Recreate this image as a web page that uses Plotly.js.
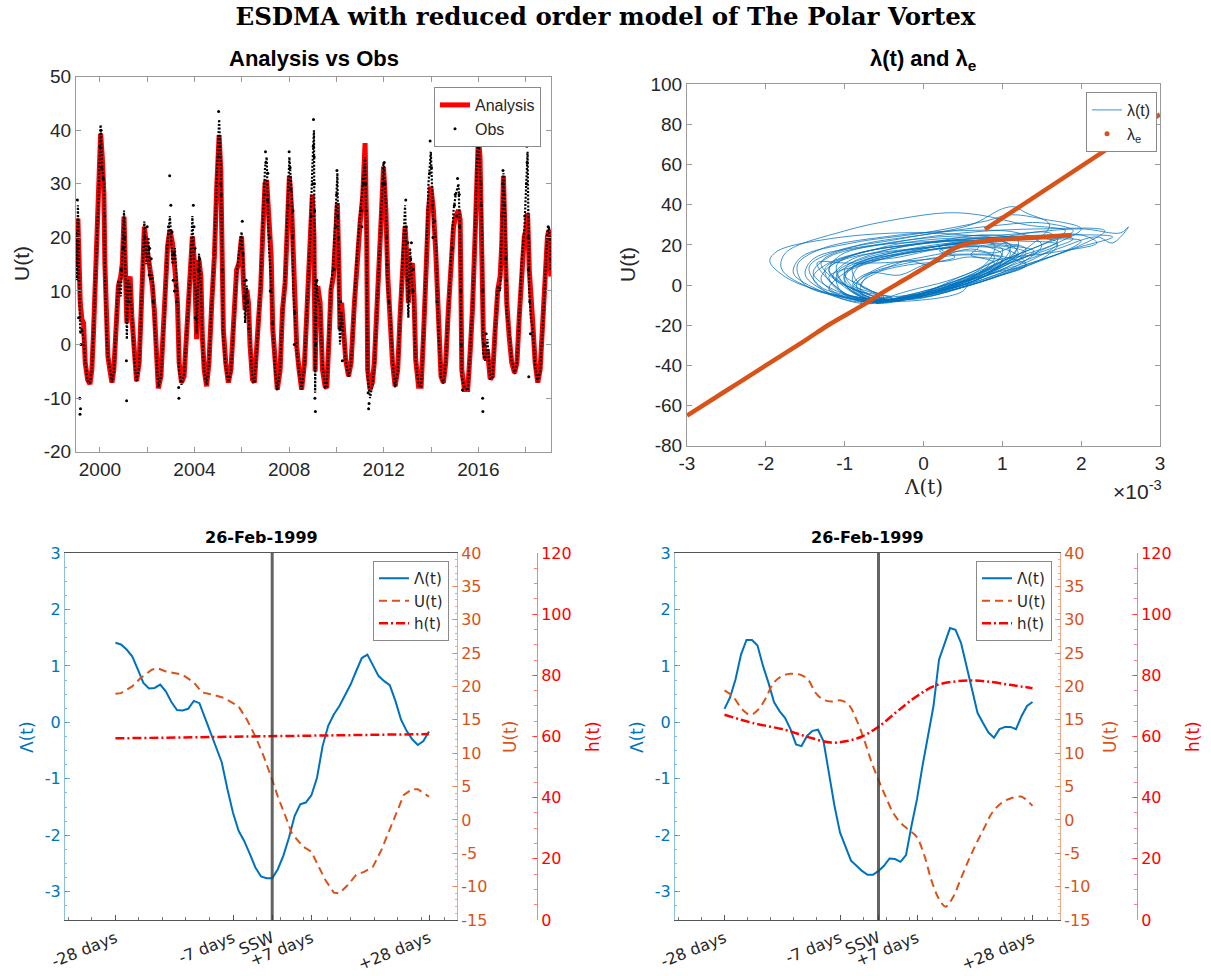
<!DOCTYPE html>
<html><head><meta charset="utf-8">
<script src="https://cdn.plot.ly/plotly-3.0.1.min.js"></script>
<style>html,body{margin:0;padding:0;background:#fff}#chart{width:1211px;height:976px}</style>
</head><body><div id="chart"></div>
<script>
// ---------- Panel 1: Analysis vs Obs (time in decimal years, U in m/s) ----------
const years = [1999.00,1999.03,1999.07,1999.12,1999.17,1999.24,1999.31,1999.38,1999.48,1999.58,1999.66,1999.73,1999.83,1999.90,1999.97,
2000.03,2000.10,2000.17,2000.21,2000.27,2000.34,2000.42,2000.51,2000.59,2000.69,2000.78,2000.88,2000.95,
2001.02,2001.10,2001.14,2001.19,2001.28,2001.35,2001.45,2001.55,2001.66,2001.76,2001.88,2001.96,
2002.05,2002.13,2002.22,2002.30,2002.38,2002.47,2002.58,2002.72,2002.86,2002.96,
2003.07,2003.17,2003.28,2003.35,2003.45,2003.56,2003.70,2003.84,2003.91,
2004.00,2004.05,2004.09,2004.19,2004.27,2004.33,2004.41,2004.51,2004.61,2004.73,2004.84,2004.94,
2005.04,2005.11,2005.15,2005.22,2005.32,2005.43,2005.54,2005.68,2005.78,2005.88,2005.99,
2006.07,2006.14,2006.21,2006.28,2006.35,2006.45,2006.53,2006.67,2006.80,2006.88,2006.98,
2007.05,2007.15,2007.24,2007.31,2007.41,2007.50,2007.62,2007.72,2007.83,2007.91,
2008.01,2008.11,2008.18,2008.25,2008.32,2008.42,2008.53,2008.65,2008.79,2008.89,2008.98,
2009.05,2009.10,2009.15,2009.21,2009.31,2009.41,2009.52,2009.59,2009.69,2009.77,2009.87,2009.97,
2010.04,2010.11,2010.15,2010.22,2010.29,2010.39,2010.51,2010.62,2010.76,2010.89,
2011.00,2011.11,2011.21,2011.28,2011.32,2011.42,2011.52,2011.60,2011.70,2011.80,2011.89,2011.99,
2012.09,2012.17,2012.27,2012.37,2012.48,2012.59,2012.69,2012.79,2012.90,2012.97,
2013.04,2013.11,2013.21,2013.28,2013.35,2013.47,2013.58,2013.68,2013.79,2013.89,2013.99,
2014.10,2014.20,2014.31,2014.42,2014.52,2014.62,2014.73,2014.85,2014.95,
2015.04,2015.16,2015.23,2015.30,2015.41,2015.55,2015.65,2015.75,2015.86,2015.93,
2016.00,2016.07,2016.14,2016.21,2016.29,2016.38,2016.50,2016.60,2016.71,2016.82,2016.92,2016.99,
2017.06,2017.13,2017.20,2017.30,2017.41,2017.53,2017.63,2017.73,2017.84,2017.94,
2018.01,2018.08,2018.15,2018.22,2018.30,2018.40,2018.51,2018.61,2018.73,2018.82,2018.92,2018.99,2019.06];

const analysisU = [20.5,14.5,23.5,15,7.8,4.7,4.0,-3.4,-6.5,-7.4,-4.7,2.2,14,21.4,30.7,
39.4,35,28.2,15.2,4.7,-2.2,-4.7,-7.1,-4.7,3.4,10.9,12.7,15.2,
23.9,12.7,4,11.5,12.7,5.3,-2.8,-6.8,-3.4,7.8,22,18.9,
16.4,14,10.9,6.5,-2.2,-8.2,-5.9,4.7,18.3,21.4,
18.9,14,7.8,-3.4,-7.1,-5.9,4,14,20.2,
15.2,8,1.0,15.8,12.7,1.6,-4.7,-7.8,-3.4,7.8,16.4,29.5,
39.1,32.6,20.2,2.8,-3.4,-7.1,-4.7,6.5,14,15.2,20.2,
11.5,6.5,10.2,7.8,-0.3,-6.5,-7.1,1.6,10.9,20.2,30.1,
30.7,21.4,16.4,2.8,-4.7,-8.4,-4.7,6.5,11.5,20.2,
31.5,25.1,14,4,-0.3,-4.7,-8.4,-3.4,10.9,18.9,28,
20.2,-5,8,10.9,7.8,-4.7,-7.8,-8.1,1.6,10.2,12.7,20.2,
26.4,12.7,2.8,7.8,1.6,-2.8,-5.9,-3.4,7.8,17.1,
22.7,27.6,37.6,20.2,-4.7,-8.4,-7.1,-3.4,4.7,14,23.3,33.2,
25.1,12.7,4,-3.4,-7.8,-4.7,5.3,14,22,17.1,
7.8,14,15.2,9,-2.8,-7.8,-7.8,1.6,14,25.1,29.5,
25.1,17.1,2,-5.9,-7.1,-3.4,6.5,14,22,
23.9,25.1,23.3,-4.7,-8.4,-8.4,-1.6,6.5,20.2,32.6,
38.8,35,21.4,1.6,-2.8,-0.9,-6.5,-5.9,2.8,10.2,12.7,18.9,
31.5,21.4,7.8,1.6,-3.4,-5.3,-3.4,5.3,15.2,20.2,
21.4,24.5,14,7.8,4,-3.4,-7.1,-4.7,4,11.5,20.2,21.4,12.7];

const obsU = [21,12,26,10,2,3,1,-3,-6.8,-7.2,-4.5,2.5,15,20,31,
41,33,30,14,3.5,-2.5,-4.3,-7,-5,3,12,9,16,
25,10,1,12,11,6,-2.4,-7,-3.8,8,23,15,
20,12,13,5,-1.5,-8,-6,5,19,24,
15,18,9,-5,-7.5,-5.5,4.5,15,24,
12,10,2,17,11,1,-5,-7.5,-3.6,8,17,31,
42,34,24,1,-4,-7,-5,7,13,17,21,
14,4,11,6,-1,-6.8,-7.2,1.5,12,22,33,
35,18,12,3,-5,-8.6,-4.4,6,12,22,
35,28,10,5,-1,-5,-8.4,-3.6,10.5,20,33,
40,-9,12,9,7,-4,-8,-8,2,11,15,24,
32,8,0,6,2,-3,-6,-3.5,8,18,
24,29,35,18,-6,-10,-7.5,-4,5,15,24,34,
26,10,6,-3,-8,-5,5,14.5,26,14,
5,18,12,6,-3,-7.5,-8,1.5,15,30,36,
22,20,3,-6,-7.3,-3.2,7,16,25,
28,30,20,-6,-8,-8.6,-1.5,7,20,33,
40,32,24,-2,-3,1,-6.5,-6,3,11,10,20,
32,24,6,2.5,-3,-5.5,-3.5,5,16,21,
30,36,10,5,3,-4,-7,-5,4,12,21,22,14];

const obsExtraYears = [1999.05,1999.08,1999.10,1999.15,1999.16,1999.18,1999.20,2000.00,2000.05,2000.07,2000.14,2000.20,
2000.90,2000.98,2001.05,2001.12,2001.13,2001.22,2001.90,2002.00,2002.08,2002.10,2002.17,2002.25,
2002.90,2002.95,2003.00,2003.05,2003.10,2003.12,2003.15,2003.20,2003.25,2003.33,2003.34,
2003.95,2003.98,2004.02,2004.03,2004.15,2004.22,2005.00,2005.02,2005.06,2005.09,2005.13,2005.17,
2005.95,2006.02,2006.05,2006.10,2006.18,2006.25,2006.30,2006.95,2007.00,2007.02,2007.08,2007.10,2007.18,2007.20,2007.28,
2007.95,2008.00,2008.04,2008.07,2008.14,2008.16,2008.22,2008.24,
2008.94,2009.00,2009.02,2009.03,2009.06,2009.07,2009.08,2009.09,2009.11,2009.12,2009.13,2009.17,
2009.90,2009.99,2010.01,2010.02,2010.06,2010.08,2010.09,2010.13,2010.18,2010.20,2010.25,
2011.05,2011.08,2011.15,2011.18,2011.24,2011.26,2011.34,2011.36,2011.38,
2011.95,2012.02,2012.05,2012.12,2012.14,2012.22,
2012.93,2012.95,2013.00,2013.02,2013.07,2013.14,2013.17,2013.24,2013.25,
2013.94,2013.96,2014.02,2014.05,2014.08,2014.15,2014.25,
2014.90,2014.99,2015.02,2015.08,2015.12,2015.19,2015.20,2015.26,2015.28,2015.33,
2015.97,2016.02,2016.04,2016.10,2016.12,2016.17,2016.18,2016.19,2016.24,2016.33,
2017.00,2017.03,2017.04,2017.08,2017.10,2017.16,2017.18,
2017.96,2018.03,2018.05,2018.06,2018.10,2018.12,2018.13,2018.17,2018.20,
2018.95,2019.02,2019.04];
const obsExtraU = [27,18,5,-10,-13,-12,0,37,40,33,31,24,
14,18,20,-3,-10.5,8,20,22,13,18,16,8,
22,31.5,26,21,12,17,10,11,8,-8,-10,
26,22,18,5,14,16,35,43.5,37,30,28,14,
18,23,17,9,12,8,3,28,36,34,27,32,20,10,4,
26,36,33,29,20,25,0,6,
24,30,37,42,35,30,25,-10,-12.5,0,5,12,
14,22,28,32.5,24,20,16,3,8,4,-3,
25,22,30,33,30,25,-9,-12,-11,
30,34,30,20,15,8,
27,22,12,19,10,16,19,10,14,
32,38,33,26,20,23,8,
18,26,28,24,31,28,22,10,0,-8.5,
37,39.5,37,30,26,10,-10,-12.5,0,2,
24,30,32.5,28,26,16,12,
24,30,37,34,20,14,-6,8,2,
22,20,16];

// ---------- Panel 2: trajectory lambda(t) in (Lambda x1e-3, U) plane; one sub-list per loop ----------
const trajLambda = [
 [-0.6,-1.2,-1.75,-1.95,-1.85,-1.2,-0.3,0.5,1.0,1.1,0.8,0.3,-0.3],
 [-0.4,-0.75,-1.0,-0.85,-0.3,0.2,0.7,0.6,1.0,0.8,0.4,0.0,-0.5],
 [-0.7,-1.4,-1.8,-1.75,-1.0,-0.3,0.3,0.7,1.3,1.8,1.6,1.0,0.6,0.5,-0.2],
 [-0.8,-1.5,-1.6,-1.3,-0.5,0.4,1.2,1.5,1.2,0.7,0.0],
 [-0.9,-1.15,-1.3,-1.2,-0.9,-0.4,0.1,0.5,0.9,1.3,1.0,0.6,0.1,-0.4],
 [-0.5,-1.1,-1.4,-1.2,-0.6,0.2,1.0,2.0,2.5,2.6,2.4,2.2,1.7,1.0,0.5,-0.3],
 [-0.7,-1.0,-1.2,-0.9,-0.2,0.6,1.1,1.0,0.5,0.1,-0.5],
 [-0.6,-0.5,-0.8,-0.6,-0.2,0.3,0.6,0.9,0.7,0.3,-0.2,-0.7],
 [-0.6,-1.3,-1.45,-1.1,-0.3,0.6,1.0,1.15,1.3,1.6,1.3,0.8,0.2,-0.4],
 [-0.9,-1.2,-1.0,-0.6,0.0,0.7,1.6,2.0,1.8,1.2,0.6,0.0,-0.7],
 [-0.8,-1.25,-1.4,-1.2,-0.7,0.0,0.6,1.2,1.7,1.5,1.0,0.5,-0.1],
 [-0.6,-0.9,-0.8,-0.2,0.5,1.0,0.9,0.4,-0.2,-0.8],
 [-0.7,-1.0,-1.3,-0.9,0.0,1.0,1.5,1.9,1.5,1.0,0.4,-0.2],
 [-0.8,-1.05,-1.1,-0.7,0.1,0.9,1.3,1.0,0.5,-0.1,-0.6],
 [-0.5,-0.7,-1.0,-0.75,-0.2,0.5,1.1,1.3,0.9,0.4,-0.2],
 [-0.5,-0.9,-1.2,-1.05,-0.4,0.5,1.5,2.3,2.0,1.3,0.6,0.0],
 [-0.7,-0.85,-0.6,0.0,0.6,0.9,0.7,0.2,-0.4],
 [-0.8,-1.2,-1.5,-1.4,-0.8,0.2,1.3,1.7,1.4,0.8,0.2,-0.5],
 [-0.3,-0.7,-0.9,-0.8,-0.5,-0.2,0.1,0.3,0.6,0.9,1.2,1.1,0.8,0.5,0.2,-0.2],
 [-0.6,-0.95,-1.0,-0.5,0.3,1.0,1.6,1.7,1.2,0.6,0.0,-0.6],
 [-0.7,-1.0,-1.2,-0.8,-0.3,0.3,0.8,1.4,1.9,1.6,1.0,0.5,0.0,-0.6],
 [-0.6,-1.0,-1.35,-1.0,-0.6,-0.2,0.3,0.2,0.6,1.0,1.4,1.2,0.9,0.4,-0.1,-0.5],
 [-0.4,-0.8,-0.9,-0.4,0.4,0.9,0.8,0.4,-0.1,-0.7],
 [-0.9,-1.3,-1.65,-1.55,-0.9,0.0,0.8,1.1,1.5,2.0,1.7,1.1,0.5,-0.2],
 [-0.8,-0.6,-0.9,-0.7,-0.3,0.0,0.4,0.2,0.7,1.0,0.7,0.3,-0.2,-0.6],
 [-0.6,-0.8,-0.7,-0.2,0.5,1.0,0.8,0.3,-0.3],
 [-0.5,-0.8,-1.15,-0.95,-0.4,0.3,0.9,1.4,2.0,2.2,1.6,0.9,0.6,0.2,-0.3],
 [-0.7,-1.1,-1.25,-0.8,0.1,1.0,1.8,2.4,1.9,1.2,0.6,-0.1],
 [-0.7,-0.4,-0.9,-1.1,-0.7,-0.1,0.5,0.3,0.9,1.3,0.9,0.5,0.0,-0.6],
 [-0.5,-0.9,-1.0,-0.6,0.2,0.8,1.2,1.1,0.6,0.0,-0.6],
 [-0.7,-1.0,-1.1,-0.6,0.2,1.0,1.2,0.9]];
const trajU = [
 [-7,-4,4,12,17,23,26,25,22,15,5,-2,-6],
 [-8,-5,3,10,14,18,19,15,12,6,0,-5,-9],
 [-8,-2,8,16,27,33,36,35,30,27,22,12,3,-3,-8],
 [-7,0,10,18,24,27,26,20,10,2,-6],
 [-7,-3,3,9,14,17,19,21,20,16,9,3,-3,-8],
 [-8,-3,6,14,20,24,25,28,26,29,21,24,18,8,0,-7],
 [-7,0,8,15,20,22,20,12,3,-4,-8],
 [-9,-6,0,6,10,12,14,11,5,-1,-6,-9],
 [-8,-1,9,17,23,30,38,39,36,30,18,6,-3,-7],
 [-7,-2,6,12,18,22,23,22,17,9,1,-5,-8],
 [-8,-3,4,11,17,21,23,22,20,13,5,-1,-7],
 [-6,2,10,16,19,18,10,2,-5,-7],
 [-8,-1,11,19,25,30,31,27,20,12,2,-6],
 [-8,-3,5,13,19,21,18,9,0,-6,-9],
 [-7,-2,5,12,16,19,17,10,4,-2,-7],
 [-8,-2,7,15,21,26,28,27,20,10,0,-6],
 [-7,0,8,14,17,14,6,-2,-7],
 [-9,-4,5,13,19,22,24,21,13,5,-3,-8],
 [-8,-6,-2,3,8,12,10,15,18,16,20,14,8,2,-3,-7],
 [-8,-2,6,14,20,24,26,22,14,4,-4,-8],
 [-8,-4,4,10,15,19,22,24,23,18,10,2,-4,-8],
 [-8,-4,11,11,11,12,15,19,22,20,17,12,6,1,-4,-8],
 [-7,0,9,16,21,20,11,3,-5,-8],
 [-8,-3,6,14,21,26,32,35,33,28,21,11,1,-7],
 [-9,-5,0,6,5,10,14,17,20,15,8,2,-3,-8],
 [-8,-3,5,11,15,13,5,-2,-7],
 [-7,-3,4,12,18,22,22,24,25,21,16,12,5,-1,-7],
 [-8,-2,8,16,21,24,25,24,18,8,0,-6],
 [-8,-6,-2,6,14,18,20,16,15,10,6,0,-5,-9],
 [-8,-1,8,16,22,25,22,13,3,-5,-8],
 [-7,0,10,18,23,22,16,8]];

// equilibrium branches lambda_e
const eqLowLambda = [-3,-2.5,-2,-1.5,-1.19,-0.77,-0.51,-0.25,0,0.2,0.34,0.45,0.55,0.75,0.97,1.2,1.39,1.6,1.88];
const eqLowU      = [-65,-52.5,-40,-27.5,-19.5,-10,-3.5,2.5,8.3,13.3,17.2,19.3,20.6,21.9,22.7,23.2,23.6,24.2,24.9];
const eqUpLambda  = [0.78,1.2,1.65,2.0,2.5,3.0];
const eqUpU       = [27.7,38.5,50.2,59.2,72.1,85];

// ---------- Panels 3 & 4: composites around the SSW of 26-Feb-1999 (days relative to SSW) ----------
const sswDay = 0;
const lamDays = [-28,-27,-26,-25,-24,-23,-22,-21,-20,-19,-18,-17,-16,-15,-14,-13,-12,-11,-10,-9,-8,-7,-6,-5,-4,-3,-2,-1,0,
 1,2,3,4,5,6,7,8,9,10,11,12,13,14,15,16,17,18,19,20,21,22,23,24,25,26,27,28];
const lamLeft = [1.41,1.38,1.29,1.17,0.94,0.70,0.60,0.61,0.67,0.55,0.36,0.22,0.21,0.24,0.38,0.34,0.08,-0.18,-0.42,-0.71,-1.18,-1.60,-1.92,-2.10,-2.33,-2.57,-2.73,-2.76,-2.76,
 -2.60,-2.36,-2.04,-1.66,-1.45,-1.42,-1.29,-0.98,-0.42,-0.06,0.14,0.29,0.47,0.67,0.91,1.14,1.20,1.00,0.82,0.73,0.66,0.38,0.05,-0.15,-0.30,-0.40,-0.33,-0.16];
const lamRight = [0.24,0.44,0.76,1.20,1.46,1.46,1.36,1.00,0.70,0.36,0.20,0.08,-0.12,-0.39,-0.42,-0.24,-0.15,-0.13,-0.33,-0.89,-1.48,-1.95,-2.21,-2.45,-2.54,-2.63,-2.70,-2.70,-2.63,
 -2.54,-2.41,-2.42,-2.47,-2.35,-1.83,-1.36,-0.77,-0.24,0.29,1.11,1.41,1.67,1.64,1.41,1.00,0.58,0.17,-0.01,-0.18,-0.27,-0.12,-0.08,-0.08,-0.12,0.11,0.29,0.36];
const uDaysLeft = [-28,-27,-25,-23.5,-21.5,-20.5,-19,-17.5,-16,-14,-12.5,-10.5,-8.5,-6,-4.5,-3,-1.5,0,1,2.5,3.5,5.5,7,8,9.5,11,12,13.5,15,16.5,18,19.5,21,22.5,23.5,25,26,28];
const uLeft = [18.9,19.0,20.0,21.25,22.5,22.75,22.25,22.0,21.75,20.6,19.1,18.75,18.25,17.0,15.0,12.5,9.5,6.0,3.5,0.25,-2.0,-4.0,-4.75,-6.5,-9.0,-10.9,-11.0,-9.75,-8.25,-7.75,-7.0,-4.5,-1.5,1.5,3.75,4.6,4.6,3.5];
const uDaysRight = [-28,-26.5,-24.7,-23.3,-21.9,-20.5,-19.1,-17.7,-16,-14.2,-12.8,-11.4,-10,-8.6,-6.8,-5.4,-4,-2.6,-1.2,0,1.3,2.7,4.1,5.5,6.9,8.3,9.7,11.1,12.2,13.6,15,16.4,17.8,19.2,20.6,22.3,24.1,25.9,26.9,28];
const uRight = [19.4,18.5,16.5,15.75,16.5,18.25,20.5,21.5,21.9,21.75,21.0,19.0,18.0,17.75,17.9,17.25,15.0,12.0,8.5,6.0,3.5,1.0,-0.5,-1.5,-2.5,-5.25,-9.25,-12.0,-13.0,-11.5,-8.75,-6.0,-3.5,-1.25,1.0,2.5,3.25,3.5,3.0,2.1];
const hDaysLeft = [-28,-14,0,14,28];
const hLeft = [59.4,59.7,60.0,60.4,60.8];
const hDaysRight = [-28,-22.6,-17,-12.8,-8.6,-5.8,-3,0,3.4,6.9,10.4,14,16.9,19.7,23.9,28];
const hRight = [67.1,64.3,62.2,59.8,58.0,58.5,60.0,63.2,68.2,73.1,76.7,78.0,78.3,78.0,76.9,75.8];

// ---------- tick labels ----------
const yearTicks = [2000,2004,2008,2012,2016];
const u1Ticks = [-20,-10,0,10,20,30,40,50];
const u1Text = ['-20','-10','0','10','20','30','40','50'];
const lam2Ticks = [-3,-2,-1,0,1,2,3];
const lam2Text = ['-3','-2','-1','0','1','2','3'];
const u2Ticks = [-80,-60,-40,-20,0,20,40,60,80,100];
const u2Text = ['-80','-60','-40','-20','0','20','40','60','80','100'];
const dayTicks = [-28,-7,0,7,28];
const dayText = ['-28 days','-7 days','SSW','+7 days','+28 days'];
const lamTicks = [-3,-2,-1,0,1,2,3];
const lamText = ['-3','-2','-1','0','1','2','3'];
const uTicks = [-15,-10,-5,0,5,10,15,20,25,30,35,40];
const uText = ['-15','-10','-5','0','5','10','15','20','25','30','35','40'];
const hTicks = [0,20,40,60,80,100,120];
const hText = ['0','20','40','60','80','100','120'];

// ---------- styling ----------
const W = 1211, H = 976;
const px = v => v / W;
const py = v => 1 - v / H;
const TOP = 'Liberation Sans, Arial, sans-serif';
const BOT = 'DejaVu Sans, sans-serif';
const BLUE = '#0072BD', ORANGE = '#D95319', RED = '#FF0000';
const dark = '#262626';

const flat = a => [].concat(...a);

const traces = [
  {x: years, y: analysisU, type:'scatter', mode:'lines', name:'Analysis', line:{color:RED, width:5}, xaxis:'x', yaxis:'y', legend:'legend'},
  // dense daily observations rendered as a run of dots
  {x: years, y: obsU, type:'scatter', mode:'lines', name:'Obs', showlegend:false, line:{color:'#000', width:2.2, dash:'2px,1.6px'}, xaxis:'x', yaxis:'y'},
  {x: obsExtraYears, y: obsExtraU, type:'scatter', mode:'markers', name:'Obs', marker:{color:'#000', size:3}, xaxis:'x', yaxis:'y', legend:'legend'},

  {x: flat(trajLambda), y: flat(trajU), type:'scatter', mode:'lines', name:'λ(t)', line:{color:BLUE, width:0.9, shape:'spline', smoothing:1}, opacity:0.85, xaxis:'x2', yaxis:'y2', legend:'legend2'},
  {x: eqLowLambda, y: eqLowU, type:'scatter', mode:'lines', showlegend:false, line:{color:ORANGE, width:4.5, shape:'spline'}, xaxis:'x2', yaxis:'y2'},
  {x: eqUpLambda, y: eqUpU, type:'scatter', mode:'lines', showlegend:false, line:{color:ORANGE, width:4.5}, xaxis:'x2', yaxis:'y2'},
  {x: [null], y: [null], type:'scatter', mode:'markers', name:'λ<sub>e</sub>', marker:{color:ORANGE, size:5}, xaxis:'x2', yaxis:'y2', legend:'legend2'},

  {x: lamDays, y: lamLeft, type:'scatter', mode:'lines', name:'Λ(t)', line:{color:BLUE, width:2}, xaxis:'x3', yaxis:'y3', legend:'legend3'},
  {x: uDaysLeft, y: uLeft, type:'scatter', mode:'lines', name:'U(t)', line:{color:ORANGE, width:2, dash:'8px,5px'}, xaxis:'x3', yaxis:'y4', legend:'legend3'},
  {x: hDaysLeft, y: hLeft, type:'scatter', mode:'lines', name:'h(t)', line:{color:RED, width:2.5, dash:'9px,3px,2px,3px'}, xaxis:'x3', yaxis:'y5', legend:'legend3'},

  {x: lamDays, y: lamRight, type:'scatter', mode:'lines', name:'Λ(t)', line:{color:BLUE, width:2}, xaxis:'x4', yaxis:'y6', legend:'legend4'},
  {x: uDaysRight, y: uRight, type:'scatter', mode:'lines', name:'U(t)', line:{color:ORANGE, width:2, dash:'8px,5px', shape:'spline'}, xaxis:'x4', yaxis:'y7', legend:'legend4'},
  {x: hDaysRight, y: hRight, type:'scatter', mode:'lines', name:'h(t)', line:{color:RED, width:2.5, dash:'9px,3px,2px,3px', shape:'spline'}, xaxis:'x4', yaxis:'y8', legend:'legend4'}
];

const topAxis = (extra) => Object.assign({
  showline:true, linecolor:'#9a9a9a', linewidth:1, mirror:'ticks', ticks:'inside', ticklen:5, tickcolor:'#9a9a9a',
  showgrid:false, zeroline:false, tickfont:{family:TOP, size:19, color:dark}, fixedrange:true
}, extra);

const botX = (domain) => ({
  domain, range:[-37,33], showline:true, linecolor:'#555', mirror:true, ticks:'inside', ticklen:5, tickcolor:'#555',
  tickmode:'array', tickvals:dayTicks, ticktext:dayText, tickangle:-22, showgrid:false, zeroline:false,
  ticklabelstandoff:2, tickfont:{family:BOT, size:16, color:dark},
  minor:{tickmode:'linear', tick0:-28, dtick:4.2, ticklen:3, tickcolor:'#777', ticks:'inside'}
});
const lamAxis = (domain, anchor) => ({
  domain, anchor, range:[-3.5,3], showline:true, linecolor:'rgba(0,114,189,0.45)', ticks:'inside', ticklen:5,
  tickcolor:'rgba(0,114,189,0.6)', tickmode:'array', tickvals:lamTicks, ticktext:lamText, showgrid:false, zeroline:false,
  tickfont:{family:BOT, size:16, color:BLUE},
  minor:{tickmode:'linear', tick0:0, dtick:0.25, ticklen:2, tickcolor:'rgba(0,114,189,0.5)', ticks:'inside'}
});
const uAxis = (over, anchor) => ({
  overlaying:over, anchor, side:'right', range:[-15,40], showline:true, linecolor:'rgba(217,83,25,0.5)', ticks:'inside', ticklen:5,
  tickcolor:'rgba(217,83,25,0.6)', tickmode:'array', tickvals:uTicks, ticktext:uText, showgrid:false, zeroline:false,
  tickfont:{family:BOT, size:16, color:ORANGE},
  minor:{tickmode:'linear', tick0:0, dtick:1, ticklen:2, tickcolor:'rgba(217,83,25,0.5)', ticks:'inside'}
});
const hAxis = (over, position) => ({
  overlaying:over, anchor:'free', position, side:'right', range:[0,120], showline:true, linecolor:'rgba(255,0,0,0.5)', ticks:'inside', ticklen:5,
  tickcolor:'rgba(255,0,0,0.6)', tickmode:'array', tickvals:hTicks, ticktext:hText, showgrid:false, zeroline:false,
  tickfont:{family:BOT, size:16, color:RED},
  minor:{tickmode:'linear', tick0:0, dtick:5, ticklen:3, tickcolor:'rgba(255,0,0,0.5)', ticks:'inside'}
});

const legendBase = {bgcolor:'#fff', bordercolor:'#8a8a8a', borderwidth:1, xanchor:'right', yanchor:'top', traceorder:'normal'};

const ann = (text, x, y, font, extra) => Object.assign({text, x:px(x), y:py(y), xref:'paper', yref:'paper', showarrow:false, font, xanchor:'center', yanchor:'middle'}, extra || {});

const layout = {
  width:W, height:H, margin:{l:0, r:0, t:0, b:0}, paper_bgcolor:'#fff', plot_bgcolor:'rgba(0,0,0,0)',
  title:{text:'<b>ESDMA with reduced order model of The Polar Vortex</b>', x:0.5, xanchor:'center', y:py(16), yanchor:'middle',
         font:{family:'DejaVu Serif, Liberation Serif, serif', size:24.5, color:'#000'}},
  xaxis: topAxis({domain:[px(76), px(551)], anchor:'y', range:[1998.99, 2019.07], tickmode:'array', tickvals:yearTicks,
          minor:{tickmode:'linear', tick0:1998, dtick:2, ticklen:5, tickcolor:'#9a9a9a', ticks:'inside'}}),
  yaxis: topAxis({domain:[py(451.7), py(76.7)], anchor:'x', range:[-20,50], tickmode:'array', tickvals:u1Ticks, ticktext:u1Text}),
  xaxis2: topAxis({domain:[px(687), px(1160)], anchor:'y2', range:[-3,3], tickmode:'array', tickvals:lam2Ticks, ticktext:lam2Text}),
  yaxis2: topAxis({domain:[py(445.7), py(84.3)], anchor:'x2', range:[-80,100], tickmode:'array', tickvals:u2Ticks, ticktext:u2Text}),
  xaxis3: Object.assign(botX([px(65), px(457)]), {anchor:'y3'}),
  yaxis3: lamAxis([py(920), py(553)], 'x3'),
  yaxis4: uAxis('y3', 'x3'),
  yaxis5: hAxis('y3', px(537)),
  xaxis4: Object.assign(botX([px(675), px(1060)]), {anchor:'y6'}),
  yaxis6: lamAxis([py(920), py(553)], 'x4'),
  yaxis7: uAxis('y6', 'x4'),
  yaxis8: hAxis('y6', px(1137)),
  legend: Object.assign({}, legendBase, {x:px(541), y:py(87), font:{family:TOP, size:16, color:dark}}),
  legend2: Object.assign({}, legendBase, {x:px(1157), y:py(92), font:{family:TOP, size:16, color:dark}}),
  legend3: Object.assign({}, legendBase, {x:px(449), y:py(561), font:{family:BOT, size:15, color:dark}}),
  legend4: Object.assign({}, legendBase, {x:px(1052), y:py(561), font:{family:BOT, size:15, color:dark}}),
  shapes:[
    {type:'line', xref:'x3', yref:'y3 domain', x0:sswDay, x1:sswDay, y0:0, y1:1, line:{color:'rgba(60,60,60,0.8)', width:3}, layer:'above'},
    {type:'line', xref:'x4', yref:'y6 domain', x0:sswDay, x1:sswDay, y0:0, y1:1, line:{color:'rgba(60,60,60,0.8)', width:3}, layer:'above'}
  ],
  annotations:[
    ann('<b>Analysis vs Obs</b>', 313.5, 58, {family:TOP, size:22, color:'#000'}),
    ann('<b>λ(t) and λ<sub>e</sub></b>', 923, 60, {family:TOP, size:22, color:'#000'}),
    ann('<b>26-Feb-1999</b>', 261, 537, {family:BOT, size:16, color:'#000'}),
    ann('<b>26-Feb-1999</b>', 867.5, 537, {family:BOT, size:16, color:'#000'}),
    ann('U(t)', 22, 264, {family:TOP, size:21, color:dark}, {textangle:-90}),
    ann('U(t)', 627, 265, {family:TOP, size:21, color:dark}, {textangle:-90}),
    ann('Λ(t)', 923, 487, {family:'DejaVu Serif, serif', size:20, color:dark}),
    ann('×10<sup>-3</sup>', 1137, 490, {family:TOP, size:21, color:dark}),
    ann('Λ(t)', 27, 737, {family:BOT, size:17, color:BLUE}, {textangle:-90}),
    ann('U(t)', 510, 737, {family:BOT, size:17, color:ORANGE}, {textangle:-90}),
    ann('h(t)', 593, 737, {family:BOT, size:17, color:RED}, {textangle:-90}),
    ann('Λ(t)', 637, 737, {family:BOT, size:17, color:BLUE}, {textangle:-90}),
    ann('U(t)', 1110, 737, {family:BOT, size:17, color:ORANGE}, {textangle:-90}),
    ann('h(t)', 1193, 737, {family:BOT, size:17, color:RED}, {textangle:-90})
  ]
};

Plotly.newPlot('chart', traces, layout, {staticPlot:true, displayModeBar:false});
</script></body></html>
